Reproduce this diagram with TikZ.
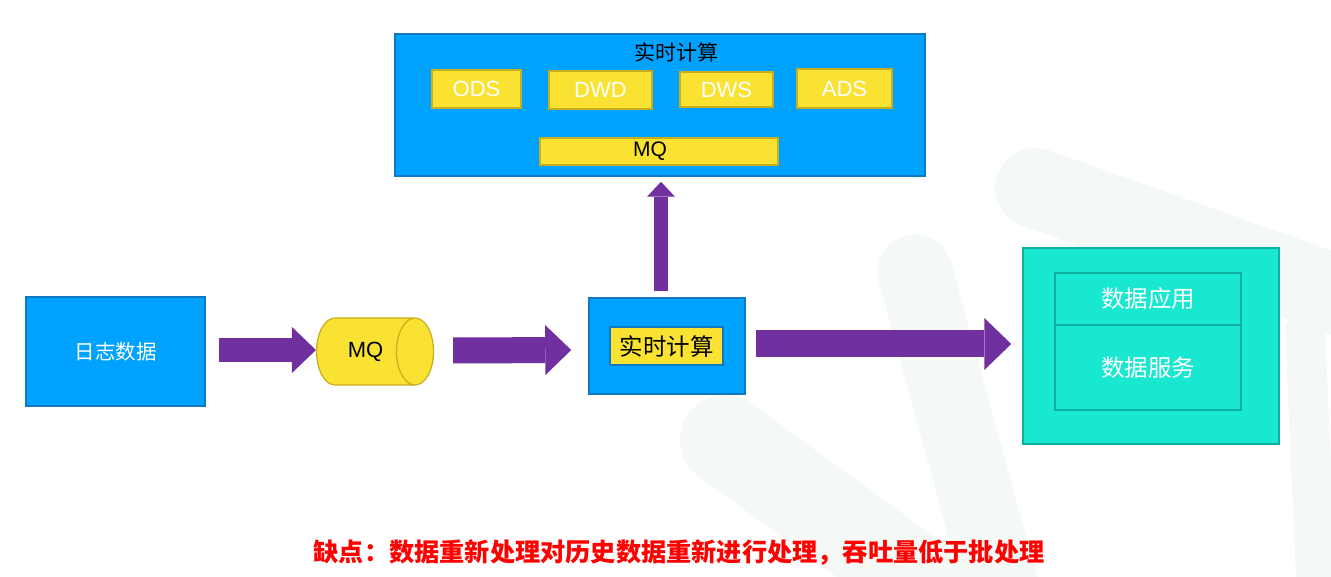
\documentclass[tikz,border=0pt]{standalone}
\usepackage{fontspec}
\setmainfont{Liberation Sans}
\newfontfamily\cjk{Noto Sans CJK SC}
\usetikzlibrary{arrows.meta,shapes.geometric,calc}
\definecolor{bluefill}{HTML}{00A2FF}
\definecolor{blueedge}{HTML}{1078C0}
\definecolor{yel}{HTML}{F9E232}
\definecolor{yeledge}{HTML}{C8AE1E}
\definecolor{purp}{HTML}{7030A0}
\definecolor{teal1}{HTML}{18E8D0}
\definecolor{tealedge}{HTML}{10B0A0}
\definecolor{wm}{HTML}{F4F9F6}
\definecolor{redtxt}{HTML}{FF0000}
\tikzset{
  bluebox/.style={draw=blueedge,fill=bluefill,line width=1.5pt,inner sep=0pt},
  yelbox/.style={draw=yeledge,fill=yel,line width=1.5pt,inner sep=0pt},
  tealbox/.style={draw=tealedge,fill=teal1,line width=1.5pt,inner sep=0pt},
  bigarrow/.style={draw=purp,line width=#1},
}
\begin{document}
\begin{tikzpicture}[x=1pt,y=-1pt]
\useasboundingbox (0,0) rectangle (1331,577);
% faint watermark
\begin{scope}[wm,line cap=round]
\draw[line width=80pt] (1035,188) -- (1380,310);
\draw[line width=75pt] (915,272) -- (1010,620);
\draw[line width=90pt] (725,440) -- (1000,640);
\draw[line width=40pt] (1305,330) -- (1318,620);
\end{scope}
% top box
\node[bluebox,minimum width=530pt,minimum height=142pt] (top) at (660,105) {};
\node[font=\cjk\fontsize{21}{21}\selectfont] (toptitle) at (676,52) {实时计算};
\node[yelbox,minimum width=89pt,minimum height=38pt,text=white,font=\fontsize{22}{22}\selectfont] (ods) at (476.5,89) {ODS};
\node[yelbox,minimum width=103pt,minimum height=38pt,text=white,font=\fontsize{22}{22}\selectfont] (dwd) at (600.5,90) {DWD};
\node[yelbox,minimum width=93pt,minimum height=35pt,text=white,font=\fontsize{22}{22}\selectfont] (dws) at (726.5,89.5) {DWS};
\node[yelbox,minimum width=95pt,minimum height=39pt,text=white,font=\fontsize{22}{22}\selectfont] (ads) at (844.5,88.5) {ADS};
\node[yelbox,minimum width=238pt,minimum height=27pt,font=\fontsize{21}{21}\selectfont,text width=238pt,align=center] (mqbar) at (659,151.5) {\hspace*{-18pt}MQ};
% left
\node[bluebox,minimum width=179pt,minimum height=109pt,text=white,font=\cjk\fontsize{20.5}{20.5}\selectfont] (log) at (115.5,351.5) {日志数据};
\node[cylinder,draw=yeledge,fill=yel,line width=1.2pt,minimum width=67pt,minimum height=117pt,shape aspect=1.9,inner sep=0pt,font=\fontsize{22}{22}\selectfont] (mq) at (365.5,351.5) {MQ};
% middle
\node[bluebox,minimum width=156pt,minimum height=96pt] (mid) at (667,346) {};
\node[draw=blueedge,fill=yel,line width=1.5pt,inner sep=0pt,minimum width=113pt,minimum height=38pt,font=\cjk\fontsize{23.5}{23.5}\selectfont] (midlbl) at (666.5,346) {实时计算};
% right
\node[tealbox,minimum width=256pt,minimum height=196pt] (right) at (1151,346) {};
\node[draw=tealedge,fill=teal1,line width=1.5pt,inner sep=0pt,minimum width=186pt,minimum height=52pt,text=white,font=\cjk\fontsize{23.5}{23.5}\selectfont] (app) at (1148,299) {数据应用};
\node[draw=tealedge,fill=teal1,line width=1.5pt,inner sep=0pt,minimum width=186pt,minimum height=85pt,text=white,font=\cjk\fontsize{23.5}{23.5}\selectfont] (svc) at (1148,367.5) {数据服务};
% arrows
\draw[bigarrow=24pt,-{Triangle[width=46pt,length=24pt,line width=0pt]}] ($(log.east)+(13,-1.5)$) -- ($(mq.west)+(0,-1.5)$);
\draw[bigarrow=26pt,-{Triangle[width=50pt,length=26pt,line width=0pt]}] ($(mq.east)+(19,-1)$) -- ($(mid.west)+(-17,4)$);
\draw[bigarrow=27pt,-{Triangle[width=52pt,length=27pt,line width=0pt]}] ($(mid.east)+(10,-2)$) -- ($(right.west)+(-11,-2)$);
\draw[bigarrow=14pt,-{Triangle[width=28pt,length=15pt,line width=0pt]}] ($(mid.north)+(-6,-6)$) -- ($(top.south)+(1,5)$);
% bottom text
\node[text=redtxt,font=\cjk\bfseries\fontsize{25.2}{25.2}\selectfont] (note) at (679,553) {缺点：数据重新处理对历史数据重新进行处理，吞吐量低于批处理};
\end{tikzpicture}
\end{document}
